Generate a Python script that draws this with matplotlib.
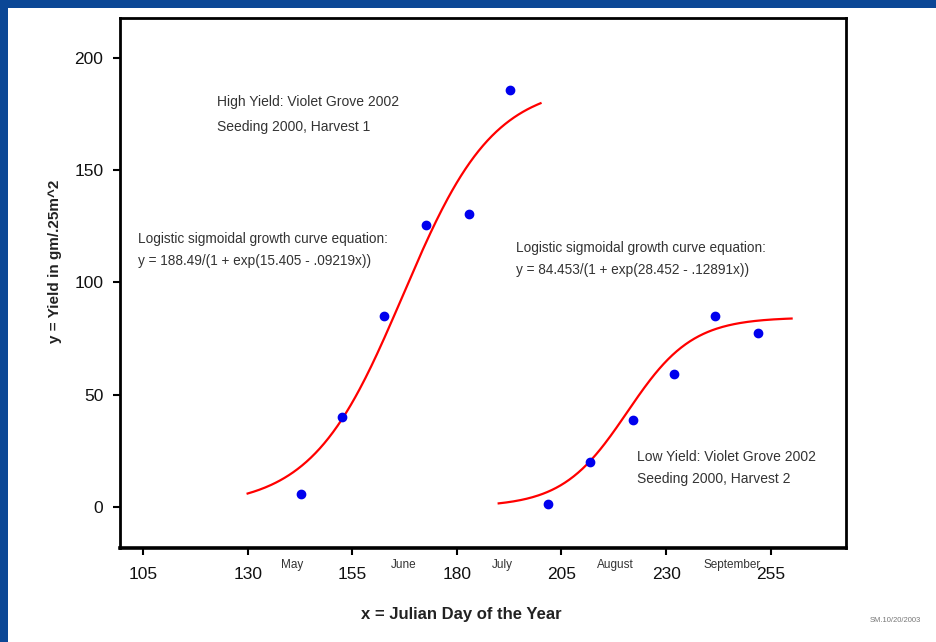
import numpy as np
import matplotlib
matplotlib.use("Agg")
import matplotlib.pyplot as plt
from matplotlib.patches import Rectangle

plt.rcParams['font.family'] = ['Liberation Sans', 'DejaVu Sans']

# observed yields (julian day, gm/.25m^2)
high_day = [142.8, 152.6, 162.7, 172.7, 182.8, 192.8]
high_yield = [5.8, 40.1, 85.1, 125.6, 130.5, 185.7]
low_day = [201.9, 211.9, 222.0, 232.0, 241.8, 251.9]
low_yield = [1.3, 20.0, 38.8, 59.2, 85.1, 77.5]

# fitted logistic coefficients as printed on the chart: a/(1+exp(b - c*x))
high_fit = [188.49, 15.405, 0.09219]
high_range = [130, 200]
low_fit = [84.453, 28.452, 0.12891]
low_range = [190, 260]

x_ticks = [105, 130, 155, 180, 205, 230, 255]
y_ticks = [0, 50, 100, 150, 200]
months = ['May', 'June', 'July', 'August', 'September']
month_pos = [140.6, 167.4, 190.9, 217.9, 245.8]

W, H = 937, 642
fig = plt.figure(figsize=(W / 100, H / 100), dpi=100)
fig.patch.set_facecolor('#0b4796')
# white slide panel
fig.patches.append(Rectangle((8 / W, 0), 1, 1 - 8 / H, transform=fig.transFigure,
                             facecolor='white', edgecolor='none', zorder=-10))

ax = fig.add_axes([120 / W, 1 - 548 / H, 726 / W, 530 / H])
ax.set_facecolor('white')


def logistic(x, p):
    return p[0] / (1 + np.exp(p[1] - p[2] * x))


xh = np.linspace(high_range[0], high_range[1], 200)
xl = np.linspace(low_range[0], low_range[1], 200)
ax.plot(xh, logistic(xh, high_fit), color='red', lw=1.6, zorder=2)
ax.plot(xl, logistic(xl, low_fit), color='red', lw=1.6, zorder=2)

ax.plot(high_day, high_yield, 'o', color='#0000ee', ms=6, zorder=3)
ax.plot(low_day, low_yield, 'o', color='#0000ee', ms=6, zorder=3)

ax.set_xlim(99.5, 273)
ax.set_ylim(-18.3, 217.8)
ax.set_xticks(x_ticks)
ax.set_yticks(y_ticks)
ax.tick_params(direction='out', length=5, width=1.5, labelsize=12.5, color='black',
               labelcolor='#111111')
ax.tick_params(axis='x', pad=9)
ax.tick_params(axis='y', pad=7)
for s in ax.spines.values():
    s.set_linewidth(2)
    s.set_color('black')
ax.spines['bottom'].set_linewidth(2.6)

# month names between the ticks
for m, p in zip(months, month_pos):
    ax.text(p, -0.033, m, transform=ax.get_xaxis_transform(), ha='center', va='center',
            fontsize=8.5, color='#333333')

fig.text(461 / W, 1 - 614 / H, 'x = Julian Day of the Year', ha='center', va='center',
         fontsize=12, fontweight='bold', color='#222222')
fig.text(55 / W, 1 - 261 / H, 'y = Yield in gm/.25m^2', ha='center', va='center',
         rotation=90, fontsize=11, fontweight='bold', color='#222222')

tc = '#333333'
ax.text(122.7, 180.5, 'High Yield: Violet Grove 2002', fontsize=10, color=tc, va='center')
ax.text(122.7, 169.3, 'Seeding 2000, Harvest 1', fontsize=10, color=tc, va='center')
ax.text(103.8, 119.2, 'Logistic sigmoidal growth curve equation:', fontsize=9.8, color=tc, va='center')
ax.text(103.8, 109.4, 'y = 188.49/(1 + exp(15.405 - .09219x))', fontsize=9.8, color=tc, va='center')
ax.text(194.2, 115.2, 'Logistic sigmoidal growth curve equation:', fontsize=9.8, color=tc, va='center')
ax.text(194.2, 105.4, 'y = 84.453/(1 + exp(28.452 - .12891x))', fontsize=9.8, color=tc, va='center')
ax.text(223.0, 22.3, 'Low Yield: Violet Grove 2002', fontsize=10, color=tc, va='center')
ax.text(223.0, 12.5, 'Seeding 2000, Harvest 2', fontsize=10, color=tc, va='center')

fig.text(895 / W, 1 - 620 / H, 'SM.10/20/2003', ha='center', va='center',
         fontsize=5.5, color='#777777')

fig.savefig('out.png', dpi=100, facecolor=fig.get_facecolor())
